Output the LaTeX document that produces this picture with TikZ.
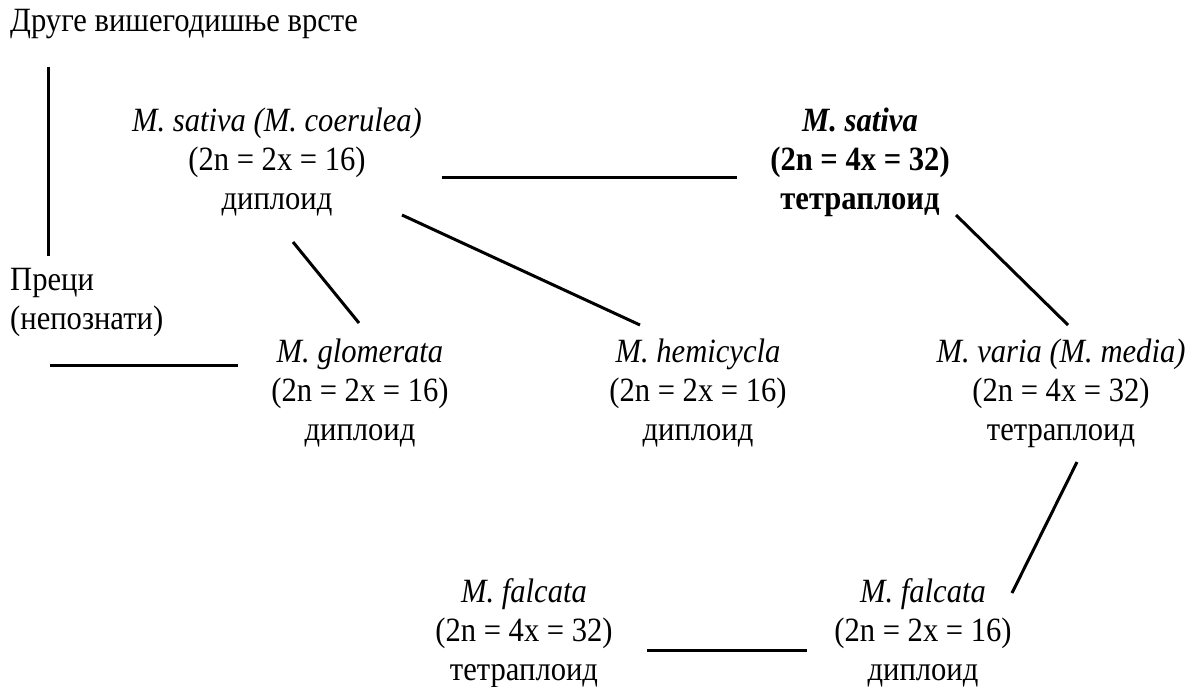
\documentclass[tikz,border=0pt]{standalone}
\usepackage{fontspec}
\setmainfont{Liberation Serif}[FakeStretch=0.9]

\begin{document}
\begin{tikzpicture}[x=1pt,y=-1pt]
\tikzstyle{taxon} = [align=center, inner sep=0pt, font=\fontsize{34}{39}\selectfont]
\tikzstyle{note} = [align=left, anchor=west, inner sep=0pt, font=\fontsize{34}{39}\selectfont]
\tikzstyle{line} = [draw, line width=3pt];
\useasboundingbox (0,0) rectangle (1186,686);

% labels on the left
\node [note] (other) at (10,24) {Друге вишегодишње врсте};
\node [note] (anc) at (10,302) {Преци\\(непознати)};

% row 1
\node [taxon] (sat2) at (277,162) {\textit{M. sativa (M. coerulea)}\\(2n = 2x = 16)\\диплоид};
\node [taxon, font=\fontsize{34}{39}\selectfont\bfseries] (sat4) at (860,162) {\textit{M. sativa}\\(2n = 4x = 32)\\тетраплоид};
% row 2
\node [taxon] (glom) at (360,393) {\textit{M. glomerata}\\(2n = 2x = 16)\\диплоид};
\node [taxon] (hemi) at (698,393) {\textit{M. hemicycla}\\(2n = 2x = 16)\\диплоид};
\node [taxon] (varia) at (1061,393) {\textit{M. varia (M. media)}\\(2n = 4x = 32)\\тетраплоид};
% row 3
\node [taxon] (falc4) at (524,633) {\textit{M. falcata}\\(2n = 4x = 32)\\тетраплоид};
\node [taxon] (falc2) at (923,633) {\textit{M. falcata}\\(2n = 2x = 16)\\диплоид};

% line ends
\coordinate (oth-e) at (48,67);
\coordinate (anc-n) at (48,256);
\coordinate (anc-e1) at (50,365);
\coordinate (glom-w) at (238,365);
\coordinate (sat2-e) at (442,177);
\coordinate (sat4-w) at (737,177);
\coordinate (sat2-se) at (402,215);
\coordinate (hemi-n) at (640,325);
\coordinate (sat2-s) at (293,242);
\coordinate (glom-n) at (359,323);
\coordinate (sat4-s) at (956,215);
\coordinate (varia-n) at (1068,325);
\coordinate (varia-s) at (1077,462);
\coordinate (falc2-ne) at (1012,593);
\coordinate (falc4-e) at (647,650);
\coordinate (falc2-w) at (807,650);

\path [line] (oth-e) -- (anc-n);
\path [line] (anc-e1) -- (glom-w);
\path [line] (sat2-e) -- (sat4-w);
\path [line] (sat2-se) -- (hemi-n);
\path [line] (sat2-s) -- (glom-n);
\path [line] (sat4-s) -- (varia-n);
\path [line] (varia-s) -- (falc2-ne);
\path [line] (falc4-e) -- (falc2-w);

\end{tikzpicture}
\end{document}
